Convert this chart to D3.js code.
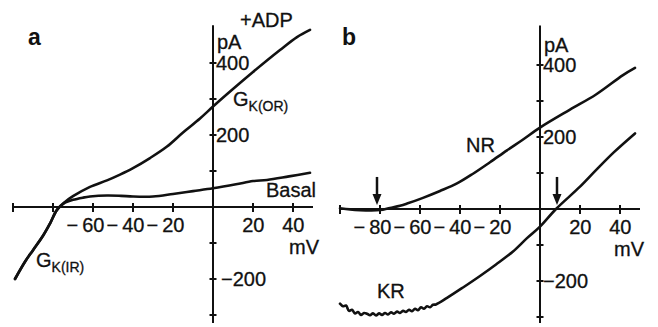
<!DOCTYPE html>
<html>
<head>
<meta charset="utf-8">
<script src="https://cdn.jsdelivr.net/npm/d3@7"></script>
<style>
  html, body { margin: 0; padding: 0; background: #fff; }
  svg { display: block; font-family: "Liberation Sans", Arial, Helvetica, sans-serif; }
</style>
</head>
<body>
<svg id="chart" width="658" height="327"></svg>
<script>
// panel a: I-V curves, +ADP and basal
const adpV = [-99, -94, -90, -85, -81.5, -78, -74, -70, -61.5, -53, -46.5, -40, -31.5, -23, -15, -6.5, 0, 6.5, 20, 33.5, 42, 48.5];
const adpI = [-200, -152, -120, -80, -46, -8, 14, 30, 56, 74, 90, 108, 136, 168, 207, 246, 279, 311, 375, 436, 472, 492];
const basalV = [-99, -94, -90, -85, -81.5, -78, -74, -70, -65, -61.5, -53, -46, -40, -30, -20, -10, 0, 11.5, 20, 27, 38, 48.5];
const basalI = [-200, -152, -120, -80, -46, -8, 12, 20, 26, 29, 32, 31, 29, 29, 36, 44, 52, 63, 72, 75, 85, 95];

// panel b: NR and KR
const nrV = [-100, -95, -90, -85, -80, -75, -70, -66.5, -58.5, -50, -41.5, -33.5, -25, -16.5, -9, 0, 15, 28, 41.5, 47.5];
const nrI = [2, -1, -3, -4, -3, 3, 9, 15, 31, 50, 71, 98, 130, 163, 191, 226, 276, 318, 372, 392];
const krV = [-100, -98.5, -97, -95.5, -94, -92.5, -91, -89.5, -88, -86.5, -85, -83.5, -82, -80.5, -79, -77.5, -76,
  -74.5, -73, -71.5, -70, -68.5, -67, -65.5, -64, -62.5, -61, -59.5, -58, -56.5, -55, -53.5, -52,
  -46.5, -38.5, -30, -22, -13.5, -6.5, 0, 8, 20, 28, 37, 47.5];
const krI = [-263, -270, -268, -283, -280, -290, -286, -294, -289, -291, -295, -290, -296, -290, -294, -289, -293,
  -287, -291, -285, -289, -283, -286, -280, -284, -277, -281, -273, -277, -270, -273, -266, -265,
  -247, -218, -186, -154, -118, -81, -49, 0, 62, 108, 158, 210];

const xTicks = [-100, -80, -60, -40, -20, 20, 40];
const yTicks = [-300, -200, -100, 100, 200, 300, 400];
const yLabels = [400, 200, -200];
const xLabelsA = [-60, -40, -20, 20, 40];
const xLabelsB = [-80, -60, -40, -20, 20, 40];
const arrowsB = [-81.5, 8.5];

const svg = d3.select("#chart");
const ink = "#111";

function label(sel) {
  return sel
    .attr("font-size", 20)
    .attr("fill", ink)
    .attr("stroke", ink)
    .attr("stroke-width", 0.3);
}

function drawPanel(p) {
  const x = d3.scaleLinear().domain([-100, 50]).range(p.xRange);
  const y = d3.scaleLinear().domain([0, 400]).range(p.yRange);
  const g = svg.append("g");

  // axes
  g.append("line")
    .attr("x1", x(-100)).attr("x2", x(50))
    .attr("y1", y(0)).attr("y2", y(0))
    .attr("stroke", ink).attr("stroke-width", 2);
  g.append("line")
    .attr("x1", x(0)).attr("x2", x(0))
    .attr("y1", y(p.iTop)).attr("y2", y(p.iBottom))
    .attr("stroke", ink).attr("stroke-width", 2);

  g.selectAll(".xt").data(xTicks).join("line")
    .attr("x1", d => x(d)).attr("x2", d => x(d))
    .attr("y1", y(0) - 4).attr("y2", y(0) + 5)
    .attr("stroke", ink).attr("stroke-width", 2);
  g.selectAll(".yt").data(yTicks).join("line")
    .attr("x1", x(0) - 3.5).attr("x2", x(0) + 3.5)
    .attr("y1", d => y(d)).attr("y2", d => y(d))
    .attr("stroke", ink).attr("stroke-width", 2);

  // tick labels: digits centred on the tick, minus hangs left
  g.selectAll(".xl").data(p.xLabels).join("text")
    .attr("x", d => x(d) + 11.5)
    .attr("y", y(0) + 25)
    .attr("text-anchor", "end")
    .call(label)
    .text(d => d < 0 ? "\u2212\u2009" + Math.abs(d) : d);

  g.selectAll(".yl").data(yLabels).join("text")
    .attr("x", d => x(0) + (d < 0 ? p.negDx : 3))
    .attr("y", d => y(d) + 7)
    .call(label)
    .text(d => d < 0 ? "\u2212" + Math.abs(d) : d);

  g.append("text")
    .attr("x", x(0) + 4).attr("y", p.pAy)
    .call(label).text("pA");
  g.append("text")
    .attr("x", p.mV[0]).attr("y", p.mV[1])
    .call(label).text("mV");
  g.append("text")
    .attr("x", p.letter[0]).attr("y", p.letter[1])
    .attr("font-size", 23).attr("font-weight", "bold").attr("fill", ink)
    .text(p.name);

  const line = d3.line()
    .x(d => x(d[0]))
    .y(d => y(d[1]))
    .curve(d3.curveCatmullRom.alpha(0.5));

  p.series.forEach(s => {
    g.append("path")
      .datum(d3.zip(s.v, s.i))
      .attr("fill", "none")
      .attr("stroke", ink)
      .attr("stroke-width", 2.6)
      .attr("stroke-linejoin", "round")
      .attr("stroke-linecap", "round")
      .attr("d", line);
  });

  p.notes.forEach(n => {
    const t = g.append("text")
      .attr("x", n.x).attr("y", n.y)
      .call(label)
      .text(n.text);
    if (n.sub) {
      t.append("tspan")
        .attr("font-size", 14)
        .attr("dy", 5)
        .text(n.sub);
    }
  });

  return { x, y, g };
}

drawPanel({
  name: "a",
  xRange: [13, 313],
  yRange: [207, 63],
  iTop: 505,
  iBottom: -322,
  xLabels: xLabelsA,
  negDx: 8,
  pAy: 49,
  mV: [289, 254],
  letter: [28, 45],
  series: [{ v: adpV, i: adpI }, { v: basalV, i: basalI }],
  notes: [
    { x: 240, y: 27, text: "+ADP" },
    { x: 233, y: 106, text: "G", sub: "K(OR)" },
    { x: 266, y: 197, text: "Basal" },
    { x: 36, y: 267, text: "G", sub: "K(IR)" }
  ]
});

const pb = drawPanel({
  name: "b",
  xRange: [340, 640],
  yRange: [209, 65],
  iTop: 510,
  iBottom: -317,
  xLabels: xLabelsB,
  negDx: 3,
  pAy: 52,
  mV: [614, 256],
  letter: [342, 45],
  series: [{ v: nrV, i: nrI }, { v: krV, i: krI }],
  notes: [
    { x: 466, y: 152, text: "NR" },
    { x: 377, y: 298, text: "KR" }
  ]
});

// reversal-potential arrows in panel b
arrowsB.forEach(v => {
  const ax = pb.x(v);
  const top = pb.y(89);
  const tip = pb.y(11);
  pb.g.append("line")
    .attr("x1", ax).attr("x2", ax)
    .attr("y1", top).attr("y2", tip - 8)
    .attr("stroke", ink).attr("stroke-width", 2.5);
  pb.g.append("path")
    .attr("d", `M${ax - 4.5},${tip - 11}L${ax + 4.5},${tip - 11}L${ax},${tip}Z`)
    .attr("fill", ink);
});
</script>
</body>
</html>
